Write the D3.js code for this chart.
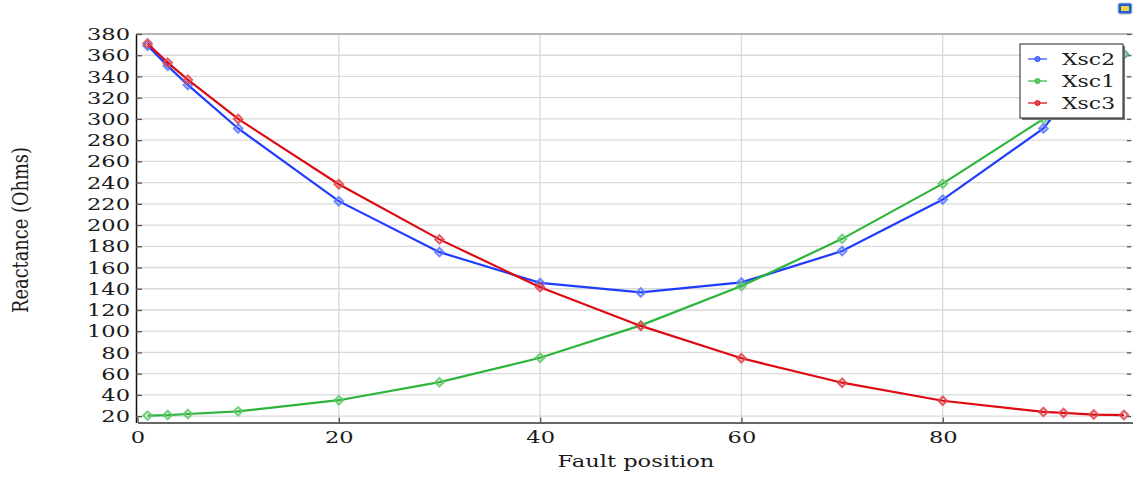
<!DOCTYPE html>
<html><head><meta charset="utf-8">
<script src="https://cdn.jsdelivr.net/npm/d3@7"></script>
<style>
html,body{margin:0;padding:0;background:#fff;}
svg{display:block;}
text{font-family:"DejaVu Serif","Liberation Serif",serif;fill:#1a1a1a;}
</style></head>
<body>
<svg id="chart" width="1133" height="477"></svg>
<script>
// ---- data ----
const faultPos = [1,3,5,10,20,30,40,50,60,70,80,90,92,95,98];
const xsc2 = [369,350,332,291,222.5,174.5,145.5,136.5,146,175.5,224,291,315,332,361];
const xsc1 = [20.5,21,22,24.5,35,52,75,105.5,142.5,187,239,300,316,337,361];
const xsc3 = [371,353,337,300,238.5,186.5,141.5,105,74.5,51.5,34.5,24,23,21.5,21];
const seriesNames = ["Xsc2","Xsc1","Xsc3"];
const yTickVals = d3.range(20, 381, 20);
const xTickVals = [0,20,40,60,80];
const xLabel = "Fault position";
const yLabel = "Reactance (Ohms)";

(function(){
const svg = d3.select("#chart");
const SX = 1.29;
const x = d3.scaleLinear().domain([0, 98.9]).range([137.5, 1133]);
const y = d3.scaleLinear().domain([14, 380]).range([422.5, 34]);
const pL = 136, pR = 1131, pT = 34, pB = 422.5;

// gridlines
const grid = svg.append("g");
grid.selectAll("line.h").data(yTickVals).enter().append("line")
  .attr("x1", pL).attr("x2", 1133).attr("y1", d=>y(d)).attr("y2", d=>y(d))
  .attr("stroke", "#d9d9d9").attr("stroke-width", 1.3);
grid.selectAll("line.v").data(xTickVals.filter(d=>d>0)).enter().append("line")
  .attr("x1", d=>x(d)).attr("x2", d=>x(d)).attr("y1", pT).attr("y2", pB)
  .attr("stroke", "#d9d9d9").attr("stroke-width", 1.3);

// top frame
svg.append("line").attr("x1", pL).attr("x2", 1133).attr("y1", pT).attr("y2", pT)
  .attr("stroke", "#8a8a8a").attr("stroke-width", 1.2);

// axes
const yAxis = svg.append("g").attr("transform", `translate(${pL},0)`)
  .call(d3.axisLeft(y).tickValues(yTickVals).tickSizeInner(-6).tickSizeOuter(0).tickPadding(6).tickFormat(d3.format("d")));
yAxis.select(".domain").attr("stroke", "#111").attr("stroke-width", 1.5);
yAxis.selectAll(".tick line").attr("stroke", "#555").attr("stroke-width", 1.3);
yAxis.selectAll(".tick text").attr("font-size", 17.5).attr("x", -6/SX)
  .attr("transform", `scale(${SX},1)`).attr("font-family", "DejaVu Serif").attr("fill", "#1a1a1a");

const xAxis = svg.append("g").attr("transform", `translate(0,${pB})`)
  .call(d3.axisBottom(x).tickValues(xTickVals).tickSizeInner(-5).tickSizeOuter(0).tickPadding(8).tickFormat(d3.format("d")));
xAxis.select(".domain").attr("stroke", "#333").attr("stroke-width", 1.5);
xAxis.selectAll(".tick line").attr("stroke", "#555").attr("stroke-width", 1.3);
xAxis.selectAll(".tick text").attr("font-size", 17.5)
  .attr("transform", `scale(${SX},1)`)
  .attr("font-family", "DejaVu Serif").attr("fill", "#1a1a1a");

const rAxis = svg.append("g").attr("transform", `translate(${pR},0)`)
  .call(d3.axisRight(y).tickValues(yTickVals).tickSizeInner(-4).tickSizeOuter(0).tickFormat(""));
rAxis.select(".domain").remove();
rAxis.selectAll(".tick line").attr("stroke", "#555").attr("stroke-width", 1.3);

// axis labels
svg.append("text").attr("transform", `translate(636,467) scale(${SX},1)`)
  .attr("text-anchor", "middle").attr("font-size", 17.5).text(xLabel);
svg.append("text").attr("transform", `translate(28,230) scale(${SX},1) rotate(-90)`)
  .attr("text-anchor", "middle").attr("font-size", 17.8).text(yLabel);

// series
const lineColors = ["#1f3cff", "#2cb53a", "#dd0a12"];
const markColors = ["#5a78ff", "#62c86a", "#e0444c"];
const allSeries = [xsc2, xsc1, xsc3];
const line = d3.line().x(d=>x(d[0])).y(d=>y(d[1]));

allSeries.forEach((vals, i) => {
  const pts = faultPos.map((p, j) => [p, vals[j]]);
  const g = svg.append("g");
  g.append("path").datum(pts).attr("d", line).attr("fill", "none")
    .attr("stroke", lineColors[i]).attr("stroke-width", 2.2);
  g.selectAll("path.m").data(pts).enter().append("path")
    .attr("d", d3.symbol().type(d3.symbolSquare2).size(44)())
    .attr("transform", d=>`translate(${x(d[0])},${y(d[1])}) rotate(45)`)
    .attr("fill", "none").attr("stroke", markColors[i]).attr("stroke-width", 2.2).attr("opacity", 0.85);
});

// legend
const lg = svg.append("g");
lg.append("rect").attr("x", 1022).attr("y", 46).attr("width", 103).attr("height", 74).attr("fill", "#777");
lg.append("rect").attr("x", 1020).attr("y", 44).attr("width", 103).attr("height", 74)
  .attr("fill", "#fff").attr("stroke", "#222").attr("stroke-width", 1);
seriesNames.forEach((n, i) => {
  const yy = 59 + i*22;
  lg.append("line").attr("x1", 1028).attr("x2", 1047).attr("y1", yy).attr("y2", yy)
    .attr("stroke", markColors[i]).attr("stroke-width", 1.6);
  lg.append("circle").attr("cx", 1037.5).attr("cy", yy).attr("r", 2.6)
    .attr("fill", markColors[i]).attr("stroke", lineColors[i]).attr("stroke-width", 0.8);
  lg.append("text").attr("transform", `translate(1062,${yy+6}) scale(${SX},1)`)
    .attr("font-size", 17).text(n);
});

// small corner icon
const ic = svg.append("g");
ic.append("rect").attr("x", 1118).attr("y", 3).attr("width", 14).attr("height", 11).attr("rx", 2)
  .attr("fill", "#1e5fd6").attr("stroke", "#bcc6d6").attr("stroke-width", 1);
ic.append("rect").attr("x", 1121).attr("y", 6).attr("width", 8).attr("height", 5).attr("fill", "#f2d23a");
})();
</script>
</body></html>
